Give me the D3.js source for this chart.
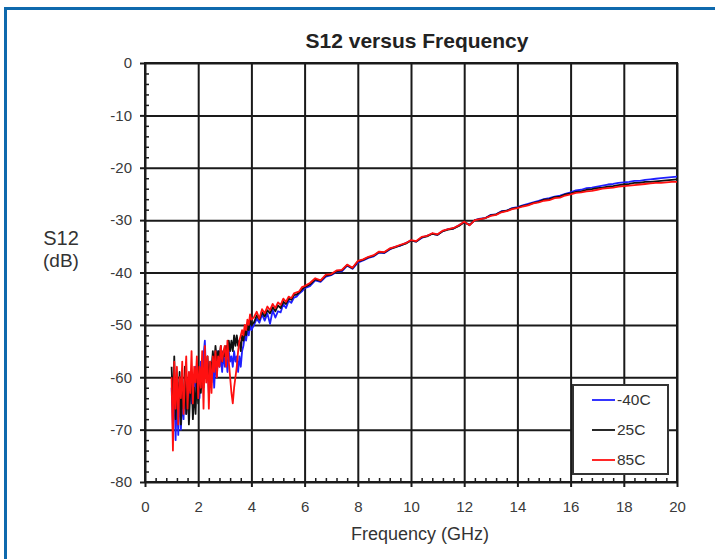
<!DOCTYPE html>
<html>
<head>
<meta charset="utf-8">
<script src="https://cdn.jsdelivr.net/npm/d3@7"></script>
<style>
  body { margin: 0; background: #fff; }
  text { font-family: "Liberation Sans", Arial, sans-serif; }
</style>
</head>
<body>
<svg id="chart" width="715" height="559"></svg>
<script>
// sample frequencies (GHz)
const freq = [
  1,1.05,1.1,1.15,1.2,1.25,1.3,1.35,1.4,1.45,1.5,1.55,1.6,1.65,1.7,1.75,1.8,1.85,1.9,1.95,2,2.05,2.1,2.15,2.2,2.25,2.3,2.35,2.4,2.45,2.5,2.55,2.6,2.65,2.7,2.75,2.8,2.85,2.9,2.95,3,3.05,3.1,3.15,3.2,3.25,3.3,3.35,3.4,3.45,3.5,3.55,3.6,3.65,3.7,3.75,3.8,3.85,3.9,3.95,4,
  4.1,4.2,4.3,4.4,4.5,4.6,4.7,4.8,4.9,5,5.1,5.2,5.3,5.4,5.5,5.6,5.7,5.8,5.9,6,
  6.2,6.4,6.6,6.8,7,7.2,7.4,7.6,7.8,8,8.2,8.4,8.6,8.8,9,9.2,9.4,9.6,9.8,10,10.2,10.4,10.6,10.8,11,11.2,11.4,11.6,11.8,12,12.2,12.4,12.6,12.8,13,13.2,13.4,13.6,13.8,14,14.2,14.4,14.6,14.8,15,15.2,15.4,15.6,15.8,16,16.2,16.4,16.6,16.8,17,17.2,17.4,17.6,17.8,18,18.2,18.4,18.6,18.8,19,19.2,19.4,19.6,19.8,20
];

// S12 (dB) at -40C
const s12m40 = [
  -62,-70,-60,-72,-63,-71,-61,-70,-64,-68,
  -60,-67,-62,-66,-59,-65,-61,-64,-58,-63,
  -60,-64,-57,-62,-56,-53,-60,-57,-63,-58,
  -61,-56,-62,-57,-60,-55,-58,-56,-59,-55,
  -58,-56,-59,-55,-57,-56,-58,-55,-57,-56,
  -59,-56,-58,-55,-54,-52,-53,-51,-52,-50,
  -51,
  -50.0,-48.8,-49.6,-48.0,-49.2,-47.8,-49.8,-47.2,-48.6,-47.4,
  -47.6,-46.0,-46.8,-45.4,-45.8,-44.8,-44.6,-44.0,-43.6,-43.0,
  -42.6,-41.5,-41.8,-40.8,-40.5,-39.9,-39.8,-38.7,-39.3,-38.1,
  -37.7,-37.2,-36.9,-36.2,-36.3,-35.6,-35.1,-34.9,-34.4,-33.9,
  -34.1,-33.4,-33.0,-32.6,-32.8,-32.1,-31.7,-31.6,-31.0,-30.4,
  -30.9,-30.0,-29.7,-29.6,-29.0,-28.9,-28.3,-28.2,-27.7,-27.5,
  -27.2,-26.9,-26.6,-26.3,-26.0,-25.8,-25.5,-25.3,-25.0,-24.7,
  -24.3,-24.2,-23.9,-23.8,-23.6,-23.4,-23.2,-23.1,-22.9,-22.8,
  -22.7,-22.5,-22.5,-22.3,-22.2,-22.1,-22.0,-21.9,-21.8,-21.7
];

// S12 (dB) at 25C
const s12p25 = [
  -58,-66,-56,-68,-60,-66,-59,-69,-62,-66,
  -58,-67,-61,-69,-63,-60,-68,-62,-67,-60,
  -65,-59,-63,-58,-62,-57,-60,-56,-61,-57,
  -59,-55,-58,-54,-57,-55,-56,-54,-57,-55,
  -56,-54,-56,-53,-55,-53,-55,-52,-54,-52,
  -54,-53,-55,-52,-53,-51,-52,-50,-51,-49,
  -50,
  -49.5,-48.2,-49.0,-47.6,-48.4,-47.2,-47.8,-46.6,-47.4,-46.3,
  -46.8,-45.6,-46.0,-45.0,-45.2,-44.3,-44.2,-43.8,-43.2,-42.8,
  -42.3,-41.3,-41.6,-40.6,-40.4,-39.8,-39.6,-38.6,-39.2,-37.9,
  -37.6,-37.1,-36.8,-36.1,-36.2,-35.5,-35.2,-34.8,-34.5,-33.9,
  -34.1,-33.3,-33.1,-32.6,-32.8,-32.1,-31.8,-31.6,-31.1,-30.4,
  -30.9,-30.0,-29.8,-29.6,-29.1,-28.9,-28.4,-28.2,-27.8,-27.6,
  -27.3,-27.1,-26.7,-26.5,-26.1,-26.0,-25.6,-25.5,-25.1,-24.9,
  -24.6,-24.5,-24.2,-24.1,-23.9,-23.8,-23.6,-23.5,-23.3,-23.2,
  -23.1,-22.9,-22.9,-22.7,-22.7,-22.6,-22.5,-22.4,-22.3,-22.2
];

// S12 (dB) at 85C
const s12p85 = [
  -60,-74,-57,-66,-58,-69,-60,-64,-57,-67,
  -61,-56,-66,-59,-63,-55,-65,-58,-61,-56,
  -64,-58,-62,-55,-66,-54,-61,-56,-66,-57,
  -63,-56,-59,-55,-60,-56,-58,-54,-57,-55,
  -54,-58,-53,-57,-60,-63,-65,-62,-60,-58,
  -55,-53,-52,-51,-52,-50,-51,-49,-50,-48,
  -49,
  -48.5,-47.5,-48.8,-47.0,-47.8,-46.5,-47.2,-46.0,-46.8,-45.7,
  -46.2,-45.0,-45.6,-44.6,-44.9,-44.0,-43.8,-43.6,-42.8,-42.6,
  -42.0,-41.1,-41.5,-40.4,-40.3,-39.6,-39.5,-38.5,-39.1,-37.8,
  -37.5,-37.0,-36.7,-36.0,-36.1,-35.4,-35.1,-34.7,-34.4,-33.8,
  -34.0,-33.2,-33.0,-32.5,-32.7,-32.0,-31.7,-31.5,-31.0,-30.3,
  -31.0,-30.0,-29.8,-29.6,-29.2,-29.0,-28.5,-28.3,-27.9,-27.7,
  -27.4,-27.2,-26.8,-26.6,-26.3,-26.2,-25.8,-25.7,-25.3,-25.1,
  -24.8,-24.7,-24.5,-24.4,-24.2,-24.0,-23.9,-23.8,-23.6,-23.5,
  -23.4,-23.3,-23.2,-23.1,-23.0,-22.9,-22.9,-22.8,-22.7,-22.7
];

const seriesNames = ["-40C", "25C", "85C"];
const seriesColors = ["#1f1fff", "#111111", "#ff1010"];
const xTicks = [0, 2, 4, 6, 8, 10, 12, 14, 16, 18, 20];
const yTicks = [0, -10, -20, -30, -40, -50, -60, -70, -80];

const plotLeft = 145, plotRight = 677, plotTop = 63, plotBottom = 482;

const svg = d3.select("#chart");

// blue frame of the picture
svg.append("path")
  .attr("d", "M5.5,559 V8.5 H715")
  .attr("fill", "none")
  .attr("stroke", "#0e69ad")
  .attr("stroke-width", 3);

const x = d3.scaleLinear().domain([0, 20]).range([plotLeft, plotRight]);
const y = d3.scaleLinear().domain([-80, 0]).range([plotBottom, plotTop]);

const minorX = d3.range(0, 20.001, 0.4).filter(v => Math.abs(v / 2 - Math.round(v / 2)) > 1e-6);
const minorY = d3.range(-80, 0.001, 2).filter(v => v % 10 !== 0);

// grid
svg.append("g")
  .attr("transform", `translate(0,${plotBottom})`)
  .call(d3.axisBottom(x).tickValues(xTicks).tickSize(-(plotBottom - plotTop)).tickFormat(""))
  .call(g => g.select(".domain").remove())
  .call(g => g.selectAll("line").attr("stroke", "#1a1a1a").attr("stroke-width", 2));
svg.append("g")
  .attr("transform", `translate(${plotLeft},0)`)
  .call(d3.axisLeft(y).tickValues(yTicks).tickSize(-(plotRight - plotLeft)).tickFormat(""))
  .call(g => g.select(".domain").remove())
  .call(g => g.selectAll("line").attr("stroke", "#1a1a1a").attr("stroke-width", 2));

// minor ticks, inside the frame
svg.append("g")
  .attr("transform", `translate(0,${plotBottom})`)
  .call(d3.axisBottom(x).tickValues(minorX).tickSize(-4).tickFormat(""))
  .call(g => g.select(".domain").remove())
  .call(g => g.selectAll("line").attr("stroke", "#1a1a1a").attr("stroke-width", 1.5));
svg.append("g")
  .attr("transform", `translate(${plotLeft},0)`)
  .call(d3.axisLeft(y).tickValues(minorY).tickSize(-4).tickFormat(""))
  .call(g => g.select(".domain").remove())
  .call(g => g.selectAll("line").attr("stroke", "#1a1a1a").attr("stroke-width", 1.5));

// frame
svg.append("rect")
  .attr("x", plotLeft).attr("y", plotTop)
  .attr("width", plotRight - plotLeft).attr("height", plotBottom - plotTop)
  .attr("fill", "none").attr("stroke", "#1a1a1a").attr("stroke-width", 2);

// axes with labels (plain hyphen for negatives)
const xAxis = svg.append("g")
  .attr("transform", `translate(0,${plotBottom})`)
  .call(d3.axisBottom(x).tickValues(xTicks).tickSize(5).tickPadding(14).tickFormat(d => String(d)));
const yAxis = svg.append("g")
  .attr("transform", `translate(${plotLeft},0)`)
  .call(d3.axisLeft(y).tickValues(yTicks).tickSize(5).tickPadding(8).tickFormat(d => String(d)));
[xAxis, yAxis].forEach(a => {
  a.select(".domain").remove();
  a.selectAll("line").attr("stroke", "#1a1a1a").attr("stroke-width", 2);
  a.selectAll("text").attr("fill", "#3a3a3a").style("font-size", "15px")
    .style("font-family", "'Liberation Sans', Arial, sans-serif");
});

// data lines
const series = [s12m40, s12p25, s12p85];
const line = d3.line().x(d => x(d[0])).y(d => y(d[1]));
series.forEach((vals, i) => {
  svg.append("path")
    .datum(freq.map((f, j) => [f, vals[j]]).filter(d => d[1] !== undefined))
    .attr("d", line)
    .attr("fill", "none")
    .attr("stroke", seriesColors[i])
    .attr("stroke-width", 1.8)
    .attr("stroke-linejoin", "round");
});

// titles
svg.append("text")
  .attr("x", 417).attr("y", 48)
  .attr("text-anchor", "middle")
  .attr("fill", "#222")
  .style("font-size", "21px").style("font-weight", "bold")
  .text("S12 versus Frequency");
svg.append("text")
  .attr("x", 420).attr("y", 540)
  .attr("text-anchor", "middle")
  .attr("fill", "#333")
  .style("font-size", "18px")
  .text("Frequency (GHz)");
svg.append("text")
  .attr("x", 61).attr("y", 245)
  .attr("text-anchor", "middle")
  .attr("fill", "#333")
  .style("font-size", "20px")
  .text("S12");
svg.append("text")
  .attr("x", 61).attr("y", 267)
  .attr("text-anchor", "middle")
  .attr("fill", "#333")
  .style("font-size", "19px")
  .text("(dB)");

// legend
const legend = svg.append("g").attr("id", "legend");
legend.append("rect")
  .attr("x", 573).attr("y", 385).attr("width", 95).attr("height", 89)
  .attr("fill", "#fff").attr("stroke", "#333").attr("stroke-width", 2);
const items = legend.selectAll("g.item").data(seriesNames).join("g")
  .attr("class", "item")
  .attr("transform", (d, i) => `translate(592,${400 + i * 30})`);
items.append("line")
  .attr("x1", 0).attr("x2", 23)
  .attr("stroke", (d, i) => seriesColors[i]).attr("stroke-width", 1.8);
items.append("text")
  .attr("x", 25).attr("dy", "0.35em")
  .attr("fill", "#333")
  .style("font-size", "15.5px")
  .text(d => d);
</script>
</body>
</html>
